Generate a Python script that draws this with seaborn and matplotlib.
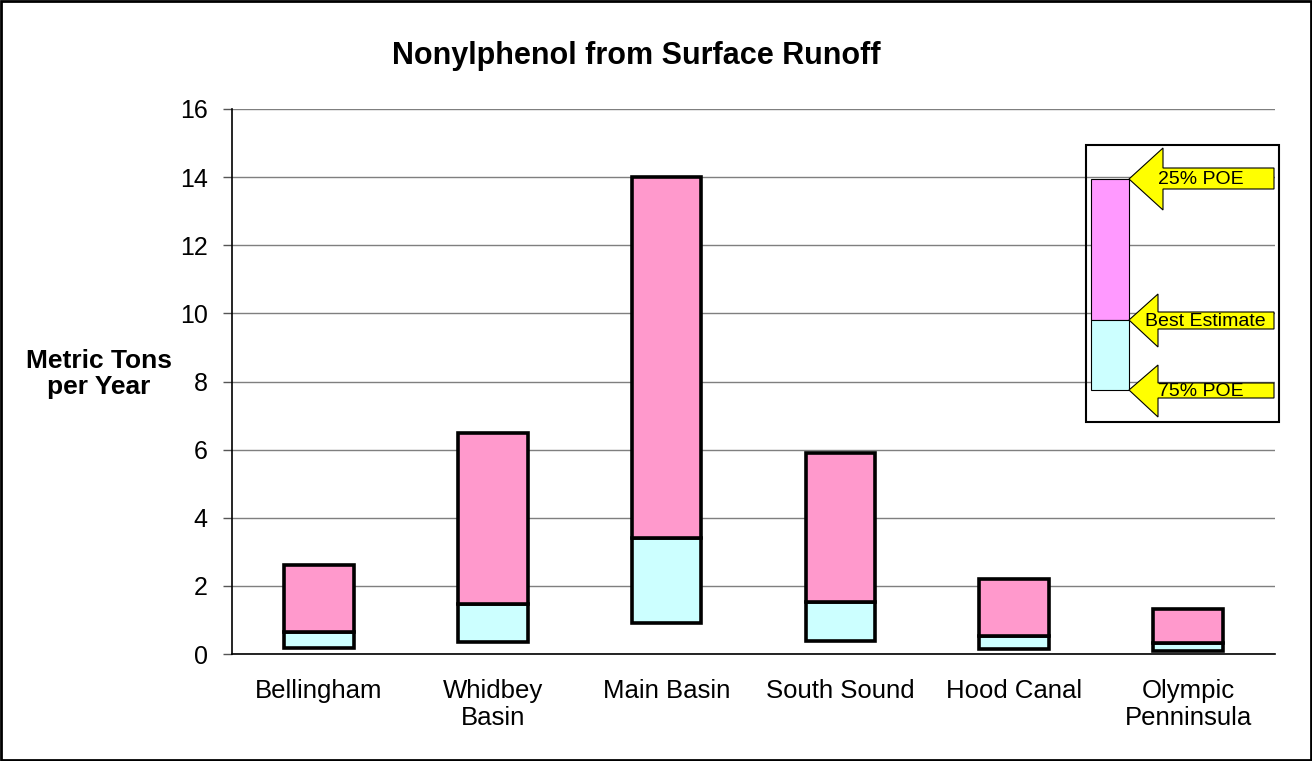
import matplotlib
matplotlib.use('Agg')
import matplotlib.pyplot as plt
import matplotlib.transforms as mtransforms
from matplotlib.patches import Polygon, Rectangle
import seaborn as sns
import pandas as pd
import numpy as np

# values (metric tons per year)
regions = ['Bellingham', 'Whidbey\nBasin', 'Main Basin', 'South Sound',
           'Hood Canal', 'Olympic\nPenninsula']
poe75 = [0.17, 0.36, 0.90, 0.38, 0.14, 0.10]      # bottom of bar
best_est = [0.64, 1.48, 3.40, 1.52, 0.52, 0.31]   # split line
poe25 = [2.60, 6.50, 14.0, 5.90, 2.21, 1.31]      # top of bar
y_ticks = [0, 2, 4, 6, 8, 10, 12, 14, 16]

sns.set_style('white')
plt.rcParams['font.family'] = ['Liberation Sans', 'DejaVu Sans']
plt.rcParams['text.color'] = 'black'
plt.rcParams['xtick.color'] = 'black'
plt.rcParams['ytick.color'] = 'black'

W, H = 1312, 761
fig = plt.figure(figsize=(W / 100, H / 100), dpi=100)
ax = fig.add_axes([232 / W, 1 - 654 / H, (1275 - 232) / W, (654 - 109) / H])

df = pd.DataFrame({'region': regions, 'low': poe75, 'mid': best_est, 'high': poe25})
df['lower_part'] = df['mid'] - df['low']
df['upper_part'] = df['high'] - df['mid']

sns.barplot(data=df, x='region', y='lower_part', bottom=df['low'].values,
            color='#CCFFFF', saturation=1, width=0.4, edgecolor='black',
            linewidth=2.6, ax=ax, zorder=3)
sns.barplot(data=df, x='region', y='upper_part', bottom=df['mid'].values,
            color='#FF99CC', saturation=1, width=0.4, edgecolor='black',
            linewidth=2.6, ax=ax, zorder=3)

ax.set_xlim(-0.5, len(regions) - 0.5)
ax.set_ylim(0, 16)
ax.set_yticks(y_ticks)
ax.set_yticklabels([str(t) for t in y_ticks], fontsize=18)
ax.yaxis.grid(True, color='#7f7f7f', linewidth=1)
ax.set_axisbelow(True)

ax.set_xticks(np.arange(-0.5, len(regions)), minor=False)
ax.set_xticklabels([''] * (len(regions) + 1))
ax.set_xticks(np.arange(len(regions)), minor=True)
ax.set_xticklabels(regions, minor=True, fontsize=18.5, linespacing=1.15)
ax.tick_params(axis='x', which='major', direction='out', length=6, width=1, color='#555555')
ax.tick_params(axis='x', which='minor', length=0, pad=18)
ax.tick_params(axis='y', direction='out', length=6.5, width=1, color='#555555', pad=11, left=True)
ax.set_xlabel('')
ax.set_ylabel('')

for s in ['top', 'right']:
    ax.spines[s].set_visible(False)
ax.spines['left'].set_color('black')
ax.spines['bottom'].set_color('black')
ax.spines['left'].set_linewidth(1.2)
ax.spines['bottom'].set_linewidth(1.2)

fig.text(636 / W, 1 - 64 / H, 'Nonylphenol from Surface Runoff',
         fontsize=22, fontweight='bold', ha='center', va='baseline')
fig.text(99 / W, 1 - 374 / H, 'Metric Tons\nper Year', fontsize=19,
         fontweight='bold', ha='center', va='center', multialignment='center',
         linespacing=1.1)

# pixel coordinates (origin top-left) for the legend drawing
px = mtransforms.Affine2D().scale(1 / W, -1 / H).translate(0, 1) + fig.transFigure

fig.patches.append(Rectangle((1086, 145), 193, 277, transform=px, fill=False,
                             edgecolor='black', linewidth=1.5))
fig.patches.append(Rectangle((1091, 179), 38, 141, transform=px,
                             facecolor='#FF99FF', edgecolor='black', linewidth=0.8))
fig.patches.append(Rectangle((1091, 320), 38, 70, transform=px,
                             facecolor='#CCFFFF', edgecolor='black', linewidth=0.8))


def arrow(tip_y, head_x, head_top, head_bot, shaft_top, shaft_bot, label, text_x):
    pts = [(1129, tip_y), (head_x, head_top), (head_x, shaft_top), (1274, shaft_top),
           (1274, shaft_bot), (head_x, shaft_bot), (head_x, head_bot)]
    fig.patches.append(Polygon(pts, closed=True, transform=px, facecolor='#FFFF00',
                               edgecolor='black', linewidth=0.8))
    fig.text(text_x, (shaft_top + shaft_bot) / 2 + 1, label, transform=px,
             fontsize=14, ha='left', va='center')


arrow(179, 1163, 148, 210, 168, 189, '25% POE', 1158)
arrow(320, 1158, 294, 347, 312, 329, 'Best Estimate', 1145)
arrow(390, 1158, 365, 417, 383, 398, '75% POE', 1158)

fig.patches.append(Rectangle((1, 1), W - 2, H - 2, transform=px, fill=False,
                             edgecolor='black', linewidth=2))

plt.savefig('out.png', dpi=100)
plt.close()
